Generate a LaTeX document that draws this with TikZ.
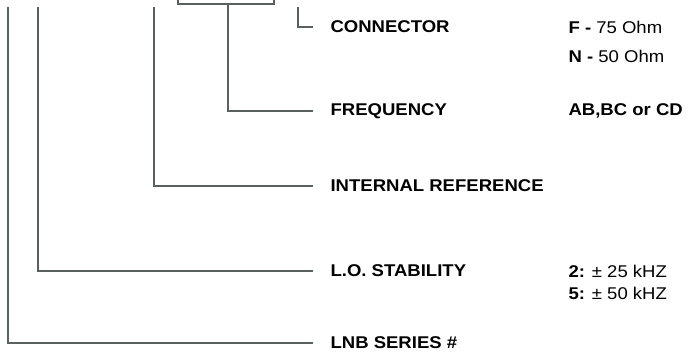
\documentclass[tikz,border=0pt]{standalone}
\usepackage{fontspec}
\setmainfont[FakeStretch=1.09]{Liberation Sans}
\usetikzlibrary{positioning}

\definecolor{leadgray}{HTML}{5A5F5F}

\begin{document}
\begin{tikzpicture}[%
    x=1pt, y=-1pt,              % Pixel-like units, top-down
    line width=1.1pt,
    ]
% -------------------------------------------------
% Styles for labels, values and leader lines
\tikzset{
  base/.style={inner sep=0pt, anchor=west, font=\fontsize{17}{20}\selectfont},
  lbl/.style={base, font=\fontsize{17}{20}\selectfont\bfseries},
  val/.style={base},
  lead/.style={draw=leadgray, shorten >=17pt}
}
\useasboundingbox (0,0) rectangle (688,352);
% -------------------------------------------------
% Labels on the left column
\node [lbl] (conn)   at (330,27)  {CONNECTOR};
\node [lbl] (freq)   at (330,111) {FREQUENCY};
\node [lbl] (intref) at (330,186) {INTERNAL REFERENCE};
\node [lbl] (lostab) at (330,271) {L.O. STABILITY};
\node [lbl] (series) at (330,343) {LNB SERIES \#};

% Values on the right
\node [val] (connF) at (568,27)  {\textbf{F -} 75 Ohm};
\node [val] (connN) at (568,56)  {\textbf{N -} 50 Ohm};
\node [val] (freqv) at (568,111) {\textbf{AB,BC or CD}};
\node [val] (lo2)   at (568,271) {\textbf{2:} ± 25 kHZ};
\node [val] (lo5)   at (568,293) {\textbf{5:} ± 50 kHZ};

% Tops of the leader lines
\coordinate (topS) at (8,7);
\coordinate (topL) at (38,7);
\coordinate (topI) at (154,7);
\coordinate (topC) at (298,7);
\coordinate (brL)  at (178,0);
\coordinate (brR)  at (274,0);
\coordinate (brM)  at (228,4);

% -------------------------------------------------
\draw[draw=leadgray] (brL) -- ++(0,4) -| (brR);
\draw[lead] (brM)  |- (freq.west);
\draw[lead] (topC) |- (conn.west);
\draw[lead] (topI) |- (intref.west);
\draw[lead] (topL) |- (lostab.west);
\draw[lead] (topS) |- (series.west);
% -------------------------------------------------
\end{tikzpicture}
\end{document}
